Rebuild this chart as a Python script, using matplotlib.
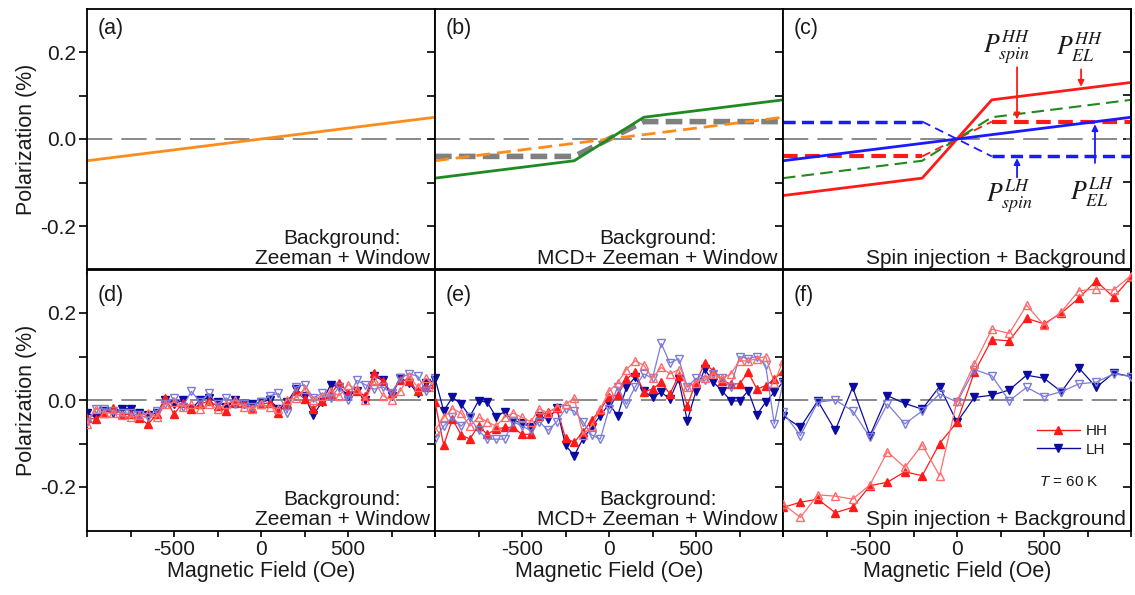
import numpy as np
import matplotlib
matplotlib.use('Agg')
import matplotlib.pyplot as plt
from matplotlib.lines import Line2D

plt.rcParams['font.family'] = ['Liberation Sans', 'DejaVu Sans']
plt.rcParams['mathtext.fontset'] = 'custom'
plt.rcParams['mathtext.it'] = 'Liberation Sans:italic'
plt.rcParams['mathtext.rm'] = 'Liberation Sans'
plt.rcParams['axes.linewidth'] = 1.3
plt.rcParams['text.color'] = '#1a1a1a'
plt.rcParams['axes.labelcolor'] = '#1a1a1a'
plt.rcParams['xtick.labelcolor'] = '#1a1a1a'
plt.rcParams['ytick.labelcolor'] = '#1a1a1a'

# Model curves, panels (a)-(c).
fieldEnds = [-1000, 1000]
zeemanWindow = [-0.05, 0.05]
fieldKnots = [-1000, -200, 200, 1000]
mcdBackground = [-0.09, -0.05, 0.05, 0.09]
mcdOnly = [-0.04, -0.04, 0.04, 0.04]
elHH = [-0.13, -0.09, 0.09, 0.13]
spinHH = [-0.04, -0.04, 0.04, 0.04]
spinLH = [0.04, 0.04, -0.04, -0.04]
elLH = [-0.05, 0.05]

# Measured data, panels (d) and (e): 50 Oe steps.
field50 = np.arange(-1000, 1001, 50)
dHHfill = [-0.041, -0.044, -0.029, -0.018, -0.033, -0.033, -0.041, -0.056, -0.033, 0.005,
           -0.033, -0.006, -0.021, -0.010, -0.002, -0.014, -0.025, -0.006, -0.008, -0.018,
           -0.010, -0.006, -0.029, -0.010, 0.021, 0.002, -0.021, -0.002, 0.013, 0.040,
           0.017, 0.021, 0.009, 0.063, 0.044, 0.017, 0.047, 0.044, 0.021, 0.029, 0.036]
dHHopen = [-0.055, -0.020, -0.030, -0.030, -0.035, -0.040, -0.035, -0.030, -0.040, -0.010,
           -0.005, -0.015, -0.010, -0.020, -0.010, -0.020, -0.010, 0.000, -0.015, -0.020,
           -0.010, -0.015, -0.020, 0.000, 0.005, 0.025, 0.000, 0.010, 0.020, 0.010,
           0.035, 0.025, 0.000, 0.045, 0.010, 0.000, 0.020, 0.055, 0.030, 0.050, 0.030]
dLHfill = [-0.030, -0.040, -0.025, -0.030, -0.020, -0.020, -0.030, -0.035, -0.030, 0.000,
           -0.010, 0.000, -0.020, 0.000, 0.005, -0.005, -0.015, 0.000, -0.010, -0.010,
           -0.005, 0.000, -0.020, -0.005, 0.025, 0.010, -0.035, -0.005, 0.035, 0.030,
           0.010, 0.020, 0.000, 0.055, 0.045, 0.010, 0.050, 0.040, 0.015, 0.040, 0.045]
dLHopen = [-0.050, -0.020, -0.020, -0.025, -0.030, -0.030, -0.035, -0.040, -0.025, -0.010,
           0.005, -0.015, 0.020, -0.005, 0.015, -0.010, 0.005, -0.010, -0.010, -0.015,
           -0.005, 0.010, 0.015, -0.030, 0.030, 0.035, 0.005, 0.015, 0.005, 0.030,
           0.000, 0.045, 0.035, 0.025, 0.030, 0.015, 0.050, 0.060, 0.055, 0.020, 0.050]

eHHfill = [-0.005, -0.104, -0.044, -0.080, -0.090, -0.059, -0.079, -0.067, -0.063, -0.063,
           -0.079, -0.079, -0.036, -0.027, -0.019, -0.088, -0.097, -0.074, -0.046, -0.023,
           0.008, 0.011, 0.048, 0.064, 0.019, 0.025, 0.041, 0.014, 0.056, -0.013,
           0.041, 0.084, 0.067, 0.044, 0.037, 0.037, 0.064, 0.025, 0.033, 0.048, 0.067]
eHHopen = [-0.070, -0.040, -0.020, -0.030, -0.060, -0.040, -0.050, -0.060, -0.040, -0.030,
           -0.040, -0.050, -0.020, -0.030, -0.015, -0.010, 0.005, -0.080, -0.060, -0.020,
           0.020, 0.040, 0.070, 0.090, 0.080, 0.050, 0.075, 0.060, 0.070, 0.030,
           0.040, 0.050, 0.060, 0.050, 0.060, 0.090, 0.090, 0.095, 0.100, 0.040, 0.090]
eLHfill = [0.050, -0.025, 0.006, -0.009, -0.038, -0.002, -0.005, -0.038, -0.027, -0.048,
           -0.052, -0.063, -0.036, -0.044, -0.019, -0.104, -0.128, -0.089, -0.063, -0.036,
           -0.009, -0.036, 0.029, 0.052, 0.021, 0.006, 0.018, 0.002, 0.048, -0.048,
           0.021, 0.071, 0.041, 0.021, -0.002, -0.002, 0.021, -0.034, -0.005, 0.018, 0.041]
eLHopen = [-0.090, -0.060, -0.040, -0.060, -0.040, -0.070, -0.090, -0.090, -0.090, -0.050,
           -0.060, -0.070, -0.050, -0.070, -0.050, -0.020, -0.025, -0.050, -0.080, -0.090,
           -0.020, 0.030, -0.010, 0.030, 0.060, 0.050, 0.130, 0.085, 0.095, 0.030,
           0.050, 0.045, 0.060, 0.050, 0.030, 0.100, 0.095, 0.100, 0.080, -0.055, 0.040]

# Measured data, panel (f): 100 Oe steps.
field100 = np.arange(-1000, 1001, 100)
fHHfill = [-0.247, -0.235, -0.228, -0.259, -0.247, -0.197, -0.189, -0.165, -0.174, -0.100,
           -0.051, 0.064, 0.139, 0.136, 0.188, 0.175, 0.200, 0.234, 0.274, 0.236, 0.282]
fHHopen = [-0.239, -0.270, -0.218, -0.221, -0.228, -0.195, -0.119, -0.155, -0.103, -0.174,
           -0.002, 0.083, 0.163, 0.153, 0.218, 0.172, 0.203, 0.251, 0.255, 0.253, 0.286]
fLHfill = [-0.036, -0.063, -0.002, -0.070, 0.029, -0.082, 0.010, -0.008, -0.021, 0.031,
           -0.051, 0.006, 0.011, 0.023, 0.057, 0.050, 0.019, 0.074, 0.029, 0.062, 0.054]
fLHopen = [-0.028, -0.082, -0.005, 0.000, -0.025, -0.086, -0.009, -0.055, -0.025, 0.014,
           -0.005, 0.070, 0.056, -0.002, 0.029, 0.008, 0.019, 0.037, 0.041, 0.060, 0.054]

panelLabels = ['(a)', '(b)', '(c)', '(d)', '(e)', '(f)']
cornerTexts = ['Background:\nZeeman + Window', 'Background:\nMCD+ Zeeman + Window',
               'Spin injection + Background'] * 2

RED = '#ff1a1a'
LIGHTRED = '#ff6b6b'
NAVY = '#0b0ba0'
LIGHTBLUE = '#7b7bdc'
ORANGE = '#ff8c1a'
GREEN = '#1f8a1f'
BLUE = '#1a1aff'
GRAY = '#808080'

W, H = 1135, 595
fig = plt.figure(figsize=(W / 100, H / 100), dpi=100)

axes = []
for row in range(2):
    for col in range(3):
        left = (87 + 348 * col) / W
        bottom = 1 - (269.5 + 261 * row) / H
        ax = fig.add_axes([left, bottom, 348 / W, 261 / H])
        axes.append(ax)

xt = list(range(-1000, 1001, 250))
yt = [-0.2, -0.1, 0.0, 0.1, 0.2]
for i, ax in enumerate(axes):
    row, col = divmod(i, 3)
    ax.set_xlim(-1000, 1000)
    ax.set_ylim(-0.3, 0.3)
    ax.axhline(0, color=GRAY, lw=1.3, ls=(0, (14, 5)), zorder=1)
    ax.set_xticks(xt)
    if row == 1:
        ax.set_xticklabels([str(v) if v in (-500, 0, 500) else '' for v in xt])
        ax.set_xlabel('Magnetic Field (Oe)', fontsize=15.5, labelpad=1)
    else:
        ax.set_xticklabels([])
    ax.set_yticks(yt)
    if col == 0:
        ax.set_yticklabels(['-0.2', '', '0.0', '', '0.2'])
        ax.set_ylabel('Polarization (%)', fontsize=15.5, labelpad=2)
    else:
        ax.set_yticklabels([])
    ax.tick_params(axis='x', direction='out', length=4, width=1.2, labelsize=15, pad=3)
    ax.tick_params(axis='y', direction='out', length=6, width=1.2, labelsize=15, pad=2)
    if col == 2:
        sec = ax.secondary_yaxis('right')
        sec.set_yticks(yt)
        sec.set_yticklabels([])
        sec.tick_params(direction='in', length=6, width=1.2)
    ax.text(0.03, 0.965 if row == 0 else 0.94, panelLabels[i], transform=ax.transAxes,
            ha='left', va='top', fontsize=15.5)
    ax.text(0.985, 0.006, cornerTexts[i], transform=ax.transAxes, ha='right', va='bottom',
            multialignment='center', fontsize=15, linespacing=1.05, zorder=5)

# (a)
axes[0].plot(fieldEnds, zeemanWindow, color=ORANGE, lw=2)

# (b)
axes[1].plot(fieldKnots, mcdOnly, color=GRAY, lw=4, ls=(0, (3, 1.3)))
axes[1].plot(fieldEnds, zeemanWindow, color=ORANGE, lw=2, ls=(0, (5, 2.5)))
axes[1].plot(fieldKnots, mcdBackground, color=GREEN, lw=2)

# (c): flat parts drawn thick, the step between the knees thin
ax = axes[2]
for vals, c, lw in [(spinLH, BLUE, 2.5), (spinHH, RED, 3)]:
    ax.plot(fieldKnots[:2], vals[:2], color=c, lw=lw, ls=(0, (3.5, 1.8)))
    ax.plot(fieldKnots[1:3], vals[1:3], color=c, lw=1.3, ls=(0, (5, 3)))
    ax.plot(fieldKnots[2:], vals[2:], color=c, lw=lw, ls=(0, (3.5, 1.8)))
ax.plot(fieldKnots, mcdBackground, color=GREEN, lw=1.5, ls=(0, (6, 3)))
ax.plot(fieldKnots, elHH, color=RED, lw=2)
ax.plot(fieldEnds, elLH, color=BLUE, lw=2)
mathKw = dict(fontsize=18.5, math_fontfamily='stix', ha='center', va='center',
              color='#1a1a1a')
ax.text(287, 0.21, r'$P_{spin}^{HH}$', **mathKw)
ax.text(707, 0.21, r'$P_{EL}^{HH}$', **mathKw)
ax.text(305, -0.133, r'$P_{spin}^{LH}$', **mathKw)
ax.text(776, -0.122, r'$P_{EL}^{LH}$', **mathKw)
arrows = [((345, 0.165), (345, 0.045), RED), ((713, 0.16), (713, 0.12), RED),
          ((345, -0.088), (345, -0.044), BLUE), ((793, -0.055), (793, 0.034), BLUE)]
for start, end, c in arrows:
    ax.annotate('', xy=end, xytext=start,
                arrowprops=dict(arrowstyle='-|>', color=c, lw=1.3, mutation_scale=9,
                                shrinkA=0, shrinkB=0))

# (d)-(f)
dataSets = [(axes[3], field50, dHHfill, dHHopen, dLHfill, dLHopen, 5.3),
            (axes[4], field50, eHHfill, eHHopen, eLHfill, eLHopen, 5.3),
            (axes[5], field100, fHHfill, fHHopen, fLHfill, fLHopen, 6.3)]
for ax, fx, hf, ho, lf, lo, ms in dataSets:
    ax.plot(fx, lf, color=NAVY, lw=0.9, marker='v', ms=ms, mfc=NAVY, mec=NAVY, zorder=3)
    ax.plot(fx, hf, color=RED, lw=0.9, marker='^', ms=ms, mfc=RED, mec=RED, zorder=3)
    ax.plot(fx, lo, color=LIGHTBLUE, lw=0.9, marker='v', ms=ms, mfc='none',
            mec=LIGHTBLUE, zorder=3)
    ax.plot(fx, ho, color=LIGHTRED, lw=0.9, marker='^', ms=ms, mfc='none',
            mec=LIGHTRED, zorder=3)

handles = [Line2D([], [], color=RED, lw=1, marker='^', ms=6),
           Line2D([], [], color=NAVY, lw=1, marker='v', ms=6)]
axes[5].legend(handles, ['HH', 'LH'], loc='upper left', bbox_to_anchor=(0.69, 0.46),
               frameon=False, fontsize=11, handlelength=2.8, handletextpad=0.4,
               labelspacing=0.3)
axes[5].text(0.736, 0.186, r'$T$ = 60 K', transform=axes[5].transAxes, ha='left',
             va='center', fontsize=11)

plt.savefig('out.png', dpi=100)
